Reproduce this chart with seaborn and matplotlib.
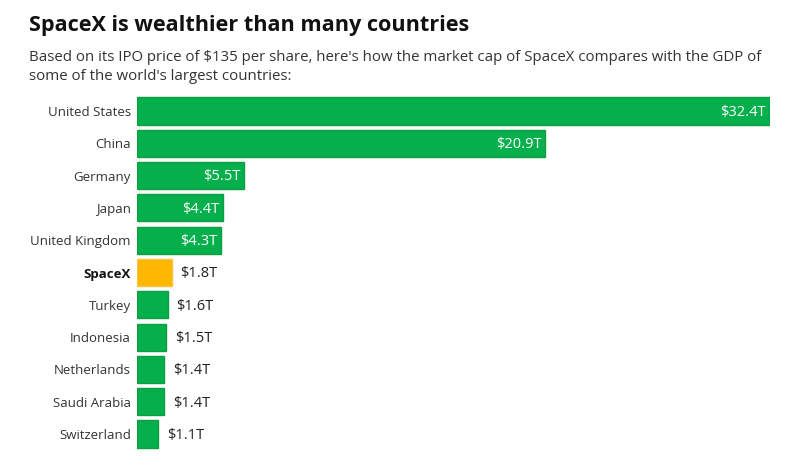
import numpy as np
import matplotlib
matplotlib.use("Agg")
import matplotlib.pyplot as plt
import pandas as pd
import seaborn as sns

# dades del grafic
countries = ["United States", "China", "Germany", "Japan", "United Kingdom", "SpaceX",
             "Turkey", "Indonesia", "Netherlands", "Saudi Arabia", "Switzerland"]
values = [32.4, 20.9, 5.5, 4.4, 4.3, 1.8, 1.6, 1.5, 1.4, 1.4, 1.1]
labels = ["$32.4T", "$20.9T", "$5.5T", "$4.4T", "$4.3T", "$1.8T",
          "$1.6T", "$1.5T", "$1.4T", "$1.4T", "$1.1T"]
kind = ["country"] * 5 + ["spacex"] + ["country"] * 5

df = pd.DataFrame({"country": countries, "value": values, "label": labels, "kind": kind})

sns.set_style("white")
plt.rcParams["font.family"] = ["Open Sans", "DejaVu Sans"]

fig = plt.figure(figsize=(7.99, 4.62), dpi=100)
ax = fig.add_axes([137 / 799, 0.0255, (770 - 137) / 799, 0.7693])

green = "#05AF4B"
orange = "#FFB703"
sns.barplot(data=df, y="country", x="value", hue="kind",
            palette={"country": green, "spacex": orange}, saturation=1,
            width=0.84, dodge=False, legend=False, ax=ax, linewidth=1.0)

# colors de la vora segons el color de la barra
for patch in ax.patches:
    r, g, b, a = patch.get_facecolor()
    if r > 0.5:
        patch.set_edgecolor("#F9C33A")
    else:
        patch.set_edgecolor("#0C9F42")

ax.set_xlim(0, 32.4)
ax.set_ylim(10.5, -0.5)
ax.set_xlabel("")
ax.set_ylabel("")
ax.set_xticks([])
sns.despine(ax=ax, left=True, bottom=True, top=True, right=True)
ax.tick_params(axis="y", length=0, pad=4.5, labelsize=9.5, labelcolor="#333333")
for t in ax.get_yticklabels():
    if t.get_text() == "SpaceX":
        t.set_fontweight("bold")
        t.set_color("#111111")

# etiquetes de valor
for i, (v, lab) in enumerate(zip(values, labels)):
    if v >= 4:
        ax.annotate(lab, (v, i + 0.04), xytext=(-3, 0), textcoords="offset points",
                    ha="right", va="center", color="white", fontsize=10.5)
    else:
        ax.annotate(lab, (v, i + 0.04), xytext=(6, 0), textcoords="offset points",
                    ha="left", va="center", color="#222222", fontsize=10.5)

fig.text(29 / 799, 1 - 25 / 462, "SpaceX is wealthier than many countries",
         fontsize=15.6, fontweight="bold", color="#111111", va="center", ha="left")
fig.text(29 / 799, 1 - 67 / 462,
         "Based on its IPO price of $135 per share, here's how the market cap of SpaceX compares with the GDP of\nsome of the world's largest countries:",
         fontsize=10.8, color="#333333", va="center", ha="left", linespacing=1.35)

fig.savefig("out.png", dpi=100)
